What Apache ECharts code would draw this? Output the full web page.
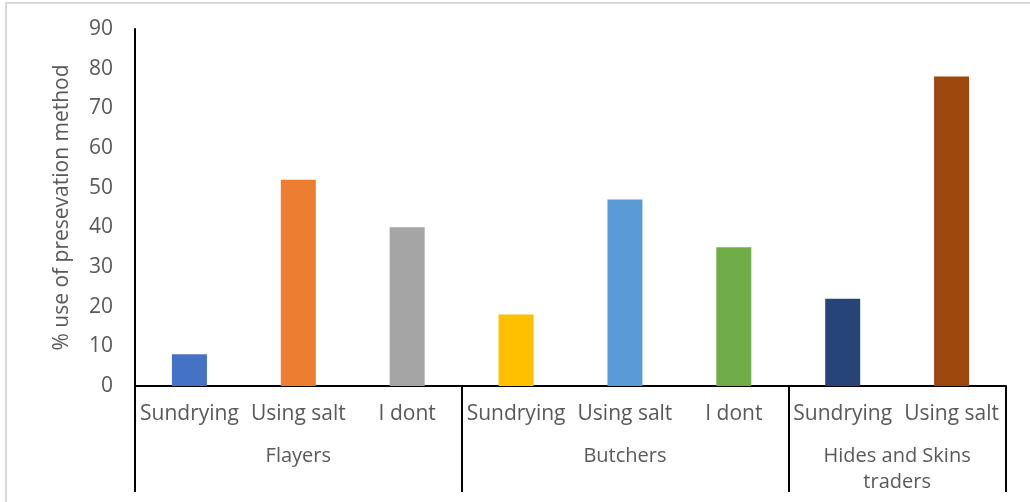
<!DOCTYPE html>
<html>
<head>
<meta charset="utf-8">
<script src="https://cdn.jsdelivr.net/npm/echarts@6/dist/echarts.min.js"></script>
<style>
html,body{margin:0;padding:0;background:#fff;}
#frame{position:absolute;left:5px;top:2px;width:1030px;height:502px;border-left:2px solid #d9d9d9;border-top:2px solid #d9d9d9;box-sizing:border-box;}
#chart{position:absolute;left:0;top:0;width:1030px;height:502px;}
</style>
</head>
<body>
<div id="frame"></div>
<div id="chart"></div>
<script>
const categories = ['Sundrying', 'Using salt', 'I dont', 'Sundrying', 'Using salt', 'I dont', 'Sundrying', 'Using salt'];
const values = [8, 52, 40, 18, 47, 35, 22, 78];
const barColors = ['#4472C4', '#ED7D31', '#A5A5A5', '#FFC000', '#5B9BD5', '#70AD47', '#264478', '#9E480E'];
const groups = ['Flayers', 'Butchers', 'Hides and Skins\ntraders'];
const groupCenters = [1.5, 4.5, 7];
const groupBounds = [0, 3, 6, 8];
const yTicks = [0, 10, 20, 30, 40, 50, 60, 70, 80, 90];
const yTitle = '% use of presevation method';

const FONT = 'Open Sans';
const chart = echarts.init(document.getElementById('chart'), null, {renderer: 'canvas'});
chart.setOption({
  animation: false,
  grid: {left: 135, right: 24, top: 29, bottom: 116, containLabel: false},
  xAxis: [{
    type: 'category',
    data: categories,
    axisLine: {show: true, lineStyle: {color: '#000', width: 2}},
    axisTick: {show: false},
    axisLabel: {interval: 0, color: '#595959', fontFamily: FONT, fontSize: 21, margin: 18}
  }, {
    type: 'value',
    position: 'bottom',
    min: 0, max: 8,
    axisLine: {show: false},
    splitLine: {show: false},
    axisTick: {show: true, customValues: groupBounds, length: 106, lineStyle: {color: '#000', width: 2}},
    axisLabel: {
      show: true,
      customValues: groupCenters,
      formatter: function (v) { const i = groupCenters.indexOf(v); return i >= 0 ? groups[i] : ''; },
      color: '#595959', fontFamily: FONT, fontSize: 20, lineHeight: 26,
      verticalAlign: 'top', margin: 57
    }
  }],
  yAxis: {
    type: 'value',
    min: yTicks[0], max: yTicks[yTicks.length - 1], interval: 10,
    name: yTitle,
    nameLocation: 'middle',
    nameGap: 62,
    nameTextStyle: {color: '#595959', fontFamily: FONT, fontSize: 21},
    axisLine: {show: true, lineStyle: {color: '#000', width: 2}},
    axisTick: {show: false},
    splitLine: {show: false},
    axisLabel: {color: '#595959', fontFamily: FONT, fontSize: 21, margin: 22}
  },
  series: [{
    type: 'bar',
    xAxisIndex: 0,
    barWidth: 35,
    data: values.map((v, i) => ({value: v, itemStyle: {color: barColors[i]}}))
  }]
});
</script>
</body>
</html>
